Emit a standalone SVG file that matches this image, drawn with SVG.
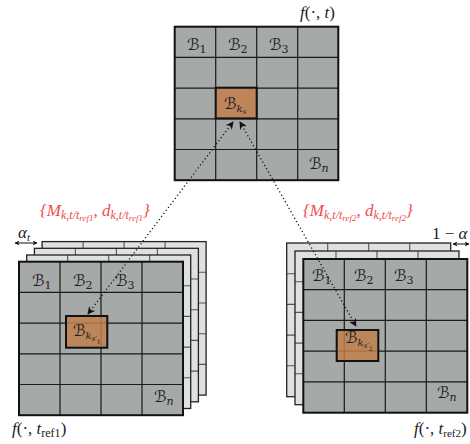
<svg xmlns="http://www.w3.org/2000/svg" width="470" height="444" viewBox="0 0 470 444">
<style>
.main{fill:#a5a9a8;}
.layer{fill:#dfe0e2;}
.border{fill:none;stroke:#111;stroke-width:2;}
.lborder{fill:none;stroke:#222;stroke-width:1.3;}
.gl{stroke:#1a1a1a;stroke-width:1.2;fill:none;}
.lgl{stroke:#555;stroke-width:1.1;fill:none;}
.hl{fill:#bf7f4c;fill-opacity:0.85;stroke:#111;stroke-width:2;}
.b{font-family:"DejaVu Serif","DejaVu Sans",serif;font-size:16px;fill:#222;}
.m{font-family:"Liberation Serif",serif;font-style:italic;font-size:17px;fill:#222;}
.r{font-family:"Liberation Serif",serif;font-style:italic;font-size:17px;fill:#f04a4c;}
.dot{stroke:#111;stroke-width:1.3;stroke-dasharray:1.2 2.6;fill:none;}
.dbl{stroke:#111;stroke-width:1;fill:none;}
</style>
<defs>
<marker id="ah" viewBox="0 0 10 10" refX="9" refY="5" markerWidth="6" markerHeight="6" orient="auto-start-reverse"><path d="M0,0 L10,5 L0,10 L3,5 z" fill="#111"/></marker>
<marker id="sh" viewBox="0 0 10 10" refX="9" refY="5" markerWidth="5" markerHeight="5" orient="auto-start-reverse"><path d="M0,0 L10,5 L0,10 L3,5 z" fill="#111"/></marker>
<g id="lines">
<path d="M41,0V153.5M82,0V153.5M123,0V153.5M0,30.7H164M0,61.4H164M0,92.1H164M0,122.8H164"/>
</g>
</defs>

<g id="frame-t">
<rect class="main" x="174.7" y="26.7" width="163.6" height="153.5"/>
<use href="#lines" class="gl" transform="translate(174.7,26.7)"/>
<rect class="border" x="174.7" y="26.7" width="163.6" height="153.5"/>
<rect class="hl" x="215.7" y="87.7" width="41" height="30.7"/>
<text class="b" x="187" y="50">ℬ<tspan font-size="11" dy="3">1</tspan></text>
<text class="b" x="228" y="50">ℬ<tspan font-size="11" dy="3">2</tspan></text>
<text class="b" x="269" y="50">ℬ<tspan font-size="11" dy="3">3</tspan></text>
<text class="b" x="224" y="109">ℬ<tspan font-size="10" font-style="italic" dy="3">k</tspan><tspan font-size="7" font-style="italic" dy="2">s</tspan></text>
<text class="b" x="309" y="169">ℬ<tspan font-size="11" font-style="italic" dy="3">n</tspan></text>
<text class="m" x="300" y="18">f<tspan font-style="normal">(·, </tspan>t<tspan font-style="normal">)</tspan></text>
</g>

<g id="frame-ref1">
<rect class="layer" x="42.1" y="241.6" width="164" height="153.5"/>
<use href="#lines" class="lgl" transform="translate(42.1,241.6)"/>
<rect class="lborder" x="42.1" y="241.6" width="164" height="153.5"/>
<rect class="layer" x="34.4" y="248.3" width="164" height="153.5"/>
<use href="#lines" class="lgl" transform="translate(34.4,248.3)"/>
<rect class="lborder" x="34.4" y="248.3" width="164" height="153.5"/>
<rect class="layer" x="26.7" y="255" width="164" height="153.5"/>
<use href="#lines" class="lgl" transform="translate(26.7,255)"/>
<rect class="lborder" x="26.7" y="255" width="164" height="153.5"/>
<rect class="main" x="19" y="261.7" width="164" height="153.5"/>
<use href="#lines" class="gl" transform="translate(19,261.7)"/>
<rect class="border" x="19" y="261.7" width="164" height="153.5"/>
<rect class="hl" x="66" y="316" width="41.3" height="31.7"/>
<text class="b" x="32" y="286">ℬ<tspan font-size="11" dy="3">1</tspan></text>
<text class="b" x="73" y="286">ℬ<tspan font-size="11" dy="3">2</tspan></text>
<text class="b" x="115" y="286">ℬ<tspan font-size="11" dy="3">3</tspan></text>
<text class="b" x="73" y="336">ℬ<tspan font-size="10" font-style="italic" dy="3">k</tspan><tspan font-size="7" font-style="italic" dy="2">s′</tspan><tspan font-size="6" dy="3">1</tspan></text>
<text class="b" x="154" y="402">ℬ<tspan font-size="11" font-style="italic" dy="3">n</tspan></text>
<text class="m" x="12" y="434">f<tspan font-style="normal">(·, </tspan>t<tspan font-style="normal" font-size="12" dy="3">ref1</tspan><tspan font-style="normal" dy="-3">)</tspan></text>
<path class="dbl" d="M15,243H37" marker-start="url(#sh)" marker-end="url(#sh)"/>
<text class="m" x="18" y="238">α<tspan font-size="11" dy="3">t</tspan></text>
<text class="r" x="40" y="216">{M<tspan font-size="12" dy="3">k,t/t</tspan><tspan font-size="9" dy="2">ref1</tspan><tspan dy="-5">, d</tspan><tspan font-size="12" dy="3">k,t/t</tspan><tspan font-size="9" dy="2">ref1</tspan><tspan dy="-5">}</tspan></text>
</g>

<g id="frame-ref2">
<rect class="layer" x="286.7" y="243" width="164" height="153.7"/>
<use href="#lines" class="lgl" transform="translate(286.7,243)"/>
<rect class="lborder" x="286.7" y="243" width="164" height="153.7"/>
<rect class="layer" x="295" y="251" width="164" height="153.7"/>
<use href="#lines" class="lgl" transform="translate(295,251)"/>
<rect class="lborder" x="295" y="251" width="164" height="153.7"/>
<rect class="main" x="303.3" y="259" width="164" height="153.7"/>
<use href="#lines" class="gl" transform="translate(303.3,259)"/>
<rect class="border" x="303.3" y="259" width="164" height="153.7"/>
<rect class="hl" x="336.7" y="330" width="41.6" height="31"/>
<text class="b" x="312" y="281">ℬ<tspan font-size="11" dy="3">1</tspan></text>
<text class="b" x="354" y="281">ℬ<tspan font-size="11" dy="3">2</tspan></text>
<text class="b" x="394" y="281">ℬ<tspan font-size="11" dy="3">3</tspan></text>
<text class="b" x="345" y="343">ℬ<tspan font-size="10" font-style="italic" dy="3">k</tspan><tspan font-size="7" font-style="italic" dy="2">s′</tspan><tspan font-size="6" dy="3">2</tspan></text>
<text class="b" x="437" y="398">ℬ<tspan font-size="11" font-style="italic" dy="3">n</tspan></text>
<text class="m" x="414" y="434" font-size="16">f<tspan font-style="normal">(·, </tspan>t<tspan font-style="normal" font-size="11" dy="3">ref2</tspan><tspan font-style="normal" dy="-3">)</tspan></text>
<path class="dbl" d="M453,244H469" marker-start="url(#sh)" marker-end="url(#sh)"/>
<text class="m" x="432" y="239" font-size="13"><tspan font-style="normal">1 − </tspan>α</text>
<text class="r" x="303" y="216">{M<tspan font-size="12" dy="3">k,t/t</tspan><tspan font-size="9" dy="2">ref2</tspan><tspan dy="-5">, d</tspan><tspan font-size="12" dy="3">k,t/t</tspan><tspan font-size="9" dy="2">ref2</tspan><tspan dy="-5">}</tspan></text>
</g>

<g id="connectors">
<path class="dot" d="M233,122L88,314" marker-start="url(#ah)" marker-end="url(#ah)"/>
<path class="dot" d="M240,122L356,326" marker-start="url(#ah)" marker-end="url(#ah)"/>
</g>
</svg>
